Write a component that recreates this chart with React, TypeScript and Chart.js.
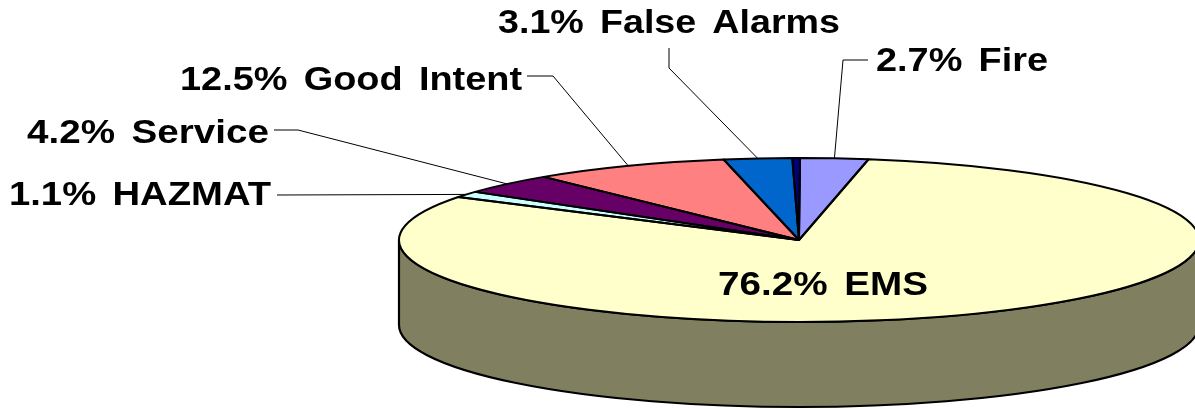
import React, { useEffect, useRef } from "react";
import { Chart, registerables } from "chart.js";

Chart.register(...registerables);

// Slice shares as drawn in the picture (they differ from the printed labels), clockwise from the top.
const categories = ["Fire", "EMS", "HAZMAT", "Service", "Good Intent", "False Alarms", "Other"];
const shareValues = [2.74, 81.0, 1.2, 4.0, 8.0, 2.75, 0.31];
const printedLabels = ["2.7% Fire", "76.2% EMS", "1.1% HAZMAT", "4.2% Service", "12.5% Good Intent", "3.1% False Alarms", ""];
const sliceColors = ["#9999FF", "#FFFFCC", "#CCFFFF", "#660066", "#FF8080", "#0066CC", "#000080"];

const W = 1195;
const H = 409;
const PIE = { cx: 799, cy: 240, rx: 400, ry: 82, depth: 85 };
const WALL_COLOR = "#808060";
const FONT = 'bold 33px "Liberation Sans", Arial, sans-serif';

// left, right, baseline of each printed label; leader bends (from label to slice)
const LABEL_BOXES = [
  { l: 876, r: 1048, b: 71, leader: [[868, 60], [843, 60]] },
  { l: 718, r: 928, b: 295, leader: [] },
  { l: 9, r: 271, b: 205, leader: [[277, 195]] },
  { l: 27, r: 269, b: 143, leader: [[274, 130], [298, 130]] },
  { l: 180, r: 522, b: 90, leader: [[527, 76], [553, 76]] },
  { l: 498, r: 840, b: 33, leader: [[669, 48], [669, 68]] },
  null,
];

const piePlugin = {
  id: "perspectivePie",
  beforeDatasetsDraw(chart: any) {
    const { ctx } = chart;
    const arcs = chart.getDatasetMeta(0).data;
    const { cx, cy, rx, ry, depth } = PIE;
    arcs.forEach((arc: any) => {
      const s = Math.max(arc.startAngle, 0);
      const e = Math.min(arc.endAngle, Math.PI);
      if (e <= s) return;
      ctx.beginPath();
      ctx.ellipse(cx, cy, rx, ry, 0, s, e);
      ctx.ellipse(cx, cy + depth, rx, ry, 0, e, s, true);
      ctx.closePath();
      ctx.fillStyle = WALL_COLOR;
      ctx.fill();
      ctx.strokeStyle = "#000";
      ctx.lineWidth = 2.2;
      ctx.stroke();
    });
    const a0 = arcs[0];
    const R = a0.outerRadius;
    ctx.save();
    ctx.translate(cx, cy);
    ctx.scale(rx / R, ry / R);
    ctx.translate(-a0.x, -a0.y);
  },
  afterDatasetsDraw(chart: any) {
    const { ctx } = chart;
    ctx.restore();
    const arcs = chart.getDatasetMeta(0).data;
    const { cx, cy, rx, ry } = PIE;
    arcs.forEach((arc: any) => {
      ctx.beginPath();
      ctx.moveTo(cx, cy);
      ctx.ellipse(cx, cy, rx, ry, 0, arc.startAngle, arc.endAngle);
      ctx.closePath();
      ctx.strokeStyle = "#000";
      ctx.lineWidth = 2;
      ctx.lineJoin = "round";
      ctx.stroke();
    });
    ctx.textBaseline = "alphabetic";
    ctx.textAlign = "left";
    arcs.forEach((arc: any, i: number) => {
      const box = LABEL_BOXES[i];
      if (!box) return;
      if (box.leader.length) {
        const mid = (arc.startAngle + arc.endAngle) / 2;
        ctx.beginPath();
        box.leader.forEach((p: number[], k: number) => (k ? ctx.lineTo(p[0], p[1]) : ctx.moveTo(p[0], p[1])));
        ctx.lineTo(cx + rx * Math.cos(mid), cy + ry * Math.sin(mid));
        ctx.strokeStyle = "#000";
        ctx.lineWidth = 1;
        ctx.stroke();
      }
      ctx.save();
      ctx.font = FONT;
      (ctx as any).wordSpacing = "5px";
      ctx.fillStyle = "#000";
      const w = ctx.measureText(printedLabels[i]).width;
      ctx.translate(box.l, box.b);
      ctx.scale((box.r - box.l) / w, 1);
      ctx.fillText(printedLabels[i], 0, 0);
      ctx.restore();
    });
  },
};

export default function App() {
  const ref = useRef<HTMLCanvasElement>(null);
  useEffect(() => {
    const chart = new Chart(ref.current!, {
      type: "pie",
      data: {
        labels: categories,
        datasets: [{ data: shareValues, backgroundColor: sliceColors, borderWidth: 0 }],
      },
      options: {
        responsive: false,
        animation: false,
        rotation: 0.15,
        layout: { padding: 0 },
        plugins: { legend: { display: false }, tooltip: { enabled: false }, title: { display: false } },
      },
      plugins: [piePlugin],
    } as any);
    return () => chart.destroy();
  }, []);
  return (
    <div style={{ position: "absolute", left: 0, top: 0, width: W, height: H, background: "#fff", overflow: "hidden" }}>
      <canvas ref={ref} width={W} height={H} style={{ display: "block" }} />
    </div>
  );
}
